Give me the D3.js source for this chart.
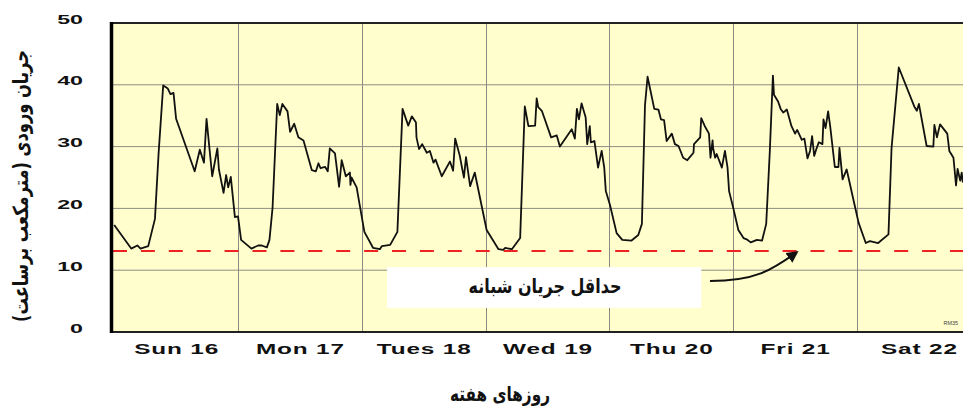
<!DOCTYPE html>
<html>
<head>
<meta charset="utf-8">
<script src="https://cdn.jsdelivr.net/npm/d3@7"></script>
<style>
  html, body { margin: 0; padding: 0; background: #ffffff; }
  svg { display: block; }
</style>
</head>
<body>
<svg id="chart" width="963" height="407"></svg>
<script>
// ---------------- DATA ----------------
// hours since Sunday 00:00, inflow (m3/h)
const readings = [
  [0.0,17.3],[3.3,13.5],[4.5,14.0],[5.1,13.5],[6.6,13.9],[7.9,18.3],[8.6,28.8],[9.5,39.9],[10.4,39.4],[10.9,38.5],
  [11.5,38.7],[12.0,34.5],[15.6,26.0],[16.6,29.5],[17.4,27.4],[17.9,34.5],[19.0,25.2],[20.0,29.7],[20.3,26.3],[21.2,22.5],
  [21.7,25.4],[22.1,23.4],[22.6,25.1],[23.4,18.6],[24.0,18.7],[24.6,14.9],[26.6,13.5],[27.9,14.0],[28.6,14.0],[29.6,13.7],
  [30.1,14.9],[30.7,20.1],[31.6,36.9],[32.1,35.1],[32.6,36.9],[33.6,35.7],[34.1,32.4],[34.9,33.7],[35.7,31.5],[36.7,31.0],
  [38.3,26.2],[39.1,26.0],[39.6,27.3],[40.0,26.5],[40.9,26.7],[41.4,26.0],[41.8,29.7],[42.8,28.9],[43.6,23.5],[44.1,27.8],
  [44.9,25.2],[45.7,25.8],[45.8,23.8],[46.0,25.0],[47.0,23.4],[48.5,16.2],[50.2,13.6],[51.5,13.4],[51.9,13.9],[53.5,14.1],
  [54.9,16.2],[55.9,36.1],[57.0,33.4],[57.7,34.9],[58.5,33.9],[58.6,31.5],[59.1,29.6],[59.7,30.4],[60.6,29.0],[61.2,29.3],
  [61.9,27.4],[62.3,27.9],[63.5,25.2],[65.1,27.6],[65.7,26.1],[66.1,31.3],[67.0,28.5],[67.4,26.7],[67.8,25.0],[68.2,28.3],
  [69.0,23.6],[69.9,25.8],[72.2,16.5],[74.5,13.4],[75.4,13.3],[75.8,13.6],[77.1,13.4],[78.7,15.2],[79.6,36.5],[80.3,33.3],
  [81.6,33.4],[81.9,37.8],[82.2,36.4],[82.9,35.8],[84.7,31.5],[85.8,31.8],[86.4,30.0],[88.7,32.8],[89.3,31.3],[89.7,36.1],
  [90.1,34.4],[90.6,37.0],[91.4,34.7],[91.7,30.4],[92.2,33.3],[92.4,30.7],[93.1,30.9],[93.8,26.6],[94.5,29.3],[95.0,26.6],
  [95.3,22.8],[96.1,20.6],[97.4,16.0],[98.5,14.9],[100.3,14.8],[101.6,15.7],[102.3,17.5],[102.9,36.7],[103.4,41.3],[104.7,36.1],
  [105.5,36.0],[106.0,34.4],[106.6,34.3],[107.1,30.9],[108.1,32.1],[108.7,30.4],[109.4,30.1],[110.3,28.2],[111.1,27.8],[112.3,29.0],
  [112.4,30.4],[113.6,31.5],[113.8,34.6],[114.5,33.3],[115.3,32.1],[115.6,28.2],[116.0,31.0],[116.1,29.8],[116.5,28.2],[116.8,28.8],
  [117.8,26.6],[118.4,29.3],[118.9,26.6],[119.2,22.8],[120.0,20.1],[121.0,16.5],[122.0,15.2],[122.6,15.0],[123.4,14.5],[124.6,14.9],
  [125.6,14.8],[126.4,17.5],[127.1,29.3],[127.7,41.5],[127.9,38.4],[128.7,37.3],[129.2,36.1],[129.7,35.5],[130.4,36.0],[131.3,33.3],
  [132.0,32.1],[132.4,32.7],[133.3,31.1],[133.8,31.3],[134.4,28.1],[134.9,29.3],[135.3,31.7],[135.7,28.5],[136.2,29.8],[136.6,30.7],
  [137.3,30.4],[137.5,34.4],[137.9,33.0],[138.4,35.7],[138.8,33.3],[139.7,26.7],[140.4,26.7],[140.6,29.8],[141.2,24.7],[142.0,26.3],
  [143.6,20.3],[144.3,17.7],[145.7,14.4],[146.5,14.7],[148.1,14.4],[150.1,15.8],[150.7,29.8],[152.1,42.8],[155.1,36.5],[155.6,35.8],
  [156.0,36.9],[157.5,30.1],[158.8,30.0],[159.0,33.5],[159.5,31.5],[160.1,33.6],[161.5,32.1],[161.9,29.3],[162.7,28.2],[163.2,23.7],
  [163.5,26.4],[164.0,24.5],[164.3,25.8],[164.5,24.2]
];
const dayLabels = ["Sun 16","Mon 17","Tues 18","Wed 19","Thu 20","Fri 21","Sat 22"];
const yTickValues = [0,10,20,30,40,50];
const minNightFlow = 13.1;
const yTitle = "جریان ورودی (مترمکعب برساعت)";
const xTitle = "روزهای هفته";
const noteText = "حداقل جریان شبانه";
const credit = "RM35";
// annotation anchors in data units [hour, flow]
const noteBox = [[52.9, 10.5], [113.8, 3.9]];
const noteArrow = [[115.5, 8.25], [132.3, 12.9]];

// ---------------- LAYOUT ----------------
const svg = d3.select("#chart");
const x = d3.scaleLinear().domain([0, 168]).range([114.2, 980.8]);
const y = d3.scaleLinear().domain([0, 50]).range([332, 23]);
const plotL = 111, plotR = 981;

svg.append("defs").append("clipPath").attr("id", "clip")
  .append("rect").attr("x", plotL).attr("y", y(50)).attr("width", plotR - plotL).attr("height", y(0) - y(50));

svg.append("rect").attr("x", plotL).attr("y", y(50))
  .attr("width", plotR - plotL).attr("height", y(0) - y(50))
  .attr("fill", "#fffecc");

// gridlines
const grid = svg.append("g").attr("clip-path", "url(#clip)");
grid.selectAll("line.h").data(yTickValues.filter(v => v > 0 && v < 50)).join("line")
  .attr("x1", plotL).attr("x2", plotR).attr("y1", d => y(d)).attr("y2", d => y(d))
  .attr("stroke", "#8e8e84").attr("stroke-width", 1);
grid.selectAll("line.v").data(d3.range(24, 168, 24)).join("line")
  .attr("x1", d => Math.round(x(d)) + 0.5).attr("x2", d => Math.round(x(d)) + 0.5)
  .attr("y1", y(50)).attr("y2", y(0))
  .attr("stroke", "#8a8a82").attr("stroke-width", 1);

// white note box
svg.append("rect")
  .attr("x", x(noteBox[0][0])).attr("y", y(noteBox[0][1]))
  .attr("width", x(noteBox[1][0]) - x(noteBox[0][0]))
  .attr("height", y(noteBox[1][1]) - y(noteBox[0][1]))
  .attr("fill", "#ffffff");

// minimum night flow dashed line
svg.append("line").attr("clip-path", "url(#clip)")
  .attr("x1", x(0) - 1.2).attr("x2", plotR)
  .attr("y1", y(minNightFlow)).attr("y2", y(minNightFlow))
  .attr("stroke", "#ee2222").attr("stroke-width", 2)
  .attr("stroke-dasharray", "14,13.9");

// flow line
const line = d3.line().x(d => x(d[0])).y(d => y(d[1]));
svg.append("path").datum(readings).attr("clip-path", "url(#clip)")
  .attr("d", line).attr("fill", "none")
  .attr("stroke", "#111").attr("stroke-width", 1.8).attr("stroke-linejoin", "round");

// borders
svg.append("line").attr("x1", plotL).attr("x2", plotR).attr("y1", y(50)).attr("y2", y(50))
  .attr("stroke", "#222").attr("stroke-width", 2);
svg.append("line").attr("x1", plotL).attr("x2", plotR).attr("y1", y(0)).attr("y2", y(0))
  .attr("stroke", "#222").attr("stroke-width", 2);
svg.append("line").attr("x1", plotL + 0.5).attr("x2", plotL + 0.5).attr("y1", y(50) - 1).attr("y2", y(0) + 1)
  .attr("stroke", "#000").attr("stroke-width", 3.5);

// axes
const sx = 1.72;
const yAxis = d3.axisLeft(y).tickValues(yTickValues).tickSize(0).tickFormat(d3.format("d"));
const gy = svg.append("g").attr("transform", `translate(${plotL},0)`).call(yAxis);
gy.select(".domain").remove();
gy.selectAll("text")
  .attr("x", 0).attr("dy", "0")
  .attr("transform", `translate(-28,0) scale(${sx},1)`)
  .attr("font-family", "Liberation Sans, Arial, sans-serif")
  .attr("font-weight", "bold").attr("font-size", 13.5).attr("fill", "#111");

const xAxis = d3.axisBottom(x).tickValues(dayLabels.map((d, i) => i * 24 + 12))
  .tickSize(0).tickFormat((d, i) => dayLabels[i]);
const gx = svg.append("g").attr("transform", `translate(0,${y(0)})`).call(xAxis);
gx.select(".domain").remove();
gx.selectAll("text")
  .attr("y", 22).attr("dy", "0")
  .attr("transform", `scale(1.68,1)`)
  .attr("letter-spacing", 0.5)
  .attr("font-family", "Liberation Sans, Arial, sans-serif")
  .attr("font-weight", "bold").attr("font-size", 14.5).attr("fill", "#111");

// helper: fit text horizontally to a target width
function fit(sel, target) {
  const w = sel.node().getComputedTextLength();
  return w > 0 ? target / w : 1;
}

const faFont = "DejaVu Sans, Noto Sans, sans-serif";

// y title
const yt = svg.append("text").text(yTitle)
  .attr("direction", "rtl").attr("text-anchor", "middle")
  .attr("font-family", faFont).attr("font-weight", "bold").attr("font-size", 21).attr("fill", "#111")
  .attr("dy", "0.35em");
yt.attr("transform", `translate(21,186) rotate(-90) scale(${fit(yt, 272)},1)`);

// x title
const xt = svg.append("text").text(xTitle)
  .attr("direction", "rtl").attr("text-anchor", "middle")
  .attr("font-family", faFont).attr("font-weight", "bold").attr("font-size", 20).attr("fill", "#111")
  .attr("dy", "0.35em");
xt.attr("transform", `translate(500,394) scale(${fit(xt, 100)},1)`);

// note text
const nt = svg.append("text").text(noteText)
  .attr("direction", "rtl").attr("text-anchor", "middle")
  .attr("font-family", faFont).attr("font-weight", "bold").attr("font-size", 20).attr("fill", "#111")
  .attr("dy", "0.35em");
nt.attr("transform", `translate(545,${y((noteBox[0][1] + noteBox[1][1]) / 2) - 2}) scale(${fit(nt, 153)},1)`);

// arrow
svg.select("defs").append("marker").attr("id", "ah")
  .attr("viewBox", "0 0 10 10").attr("refX", 8).attr("refY", 5)
  .attr("markerWidth", 6).attr("markerHeight", 6).attr("orient", "auto")
  .append("path").attr("d", "M0,0 L10,5 L0,10 Z").attr("fill", "#111");
const [a0, a1] = noteArrow;
const p0 = [x(a0[0]), y(a0[1])], p1 = [x(a1[0]), y(a1[1])];
const arrowPath = d3.path();
arrowPath.moveTo(p0[0], p0[1]);
arrowPath.bezierCurveTo(p0[0] + 45, p0[1], p1[0] - 25, p1[1] + 18, p1[0], p1[1]);
svg.append("path").attr("d", arrowPath.toString())
  .attr("fill", "none").attr("stroke", "#111").attr("stroke-width", 2)
  .attr("marker-end", "url(#ah)");

// tiny credit
svg.append("text").text(credit)
  .attr("x", x(163.6)).attr("y", y(1.2))
  .attr("text-anchor", "end").attr("font-family", "Liberation Sans, Arial, sans-serif")
  .attr("font-size", 5.5).attr("fill", "#444");
</script>
</body>
</html>
